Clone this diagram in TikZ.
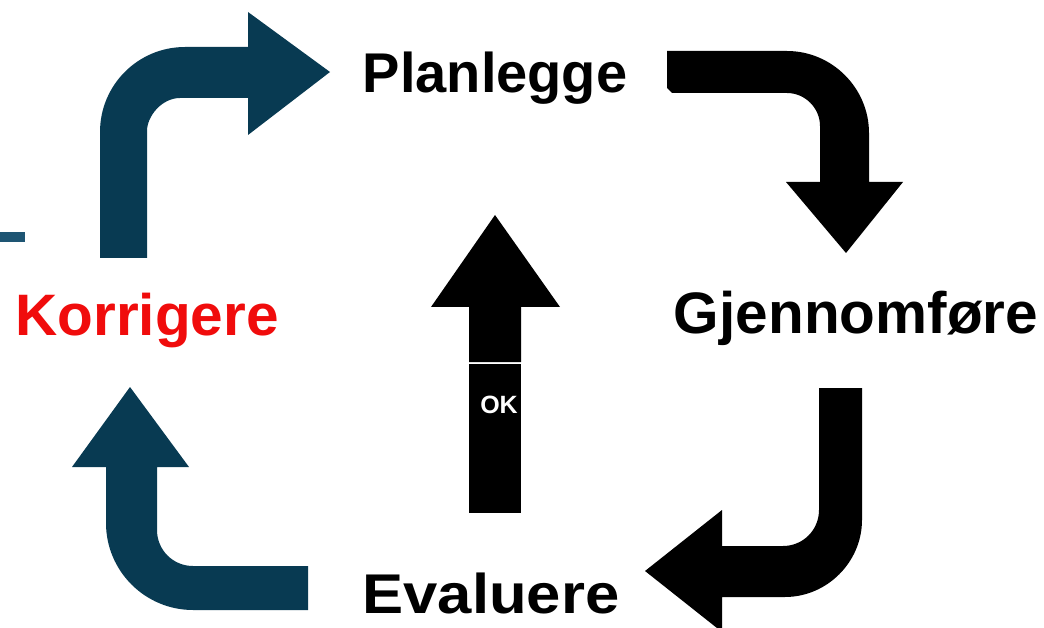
\documentclass[tikz,border=0pt]{standalone}
\usepackage{fontspec}
\setmainfont{Liberation Sans}
\definecolor{tealdark}{RGB}{8,58,82}
\definecolor{teallight}{RGB}{30,85,115}
\definecolor{redlabel}{RGB}{240,12,12}
\tikzset{
  lbl/.style={inner sep=0pt, anchor=base, font=\fontsize{56}{60}\selectfont\bfseries},
  lblb/.style={inner sep=0pt, anchor=base, font=\fontsize{58.5}{62}\selectfont\bfseries},
  oklbl/.style={inner sep=0pt, anchor=base, text=white, font=\fontsize{25}{28}\selectfont\bfseries},
}
\begin{document}
\begin{tikzpicture}[x=1pt,y=-1pt]
\useasboundingbox (0,0) rectangle (1044,628);
% small mark at left
\fill[teallight] (0,232) rectangle (25,242);
% top-left arrow (Korrigere -> Planlegge)
\fill[tealdark] (100,258) -- (100,132) .. controls (100,85) and (138,47) .. (185,47)
  -- (248,47) -- (248,12) -- (330,72) -- (248,135) -- (248,98) -- (180,98)
  .. controls (162,98) and (147,116) .. (147,131) -- (147,258) -- cycle;
% top-right arrow (Planlegge -> Gjennomfore)
\fill[black] (667,51) -- (787,51) .. controls (832,51) and (869,88) .. (869,133)
  -- (869,182) -- (903,182) -- (846,253) -- (786,182) -- (820,182) -- (820,126)
  .. controls (820,108) and (805,93) .. (787,93) -- (672,93) -- (667,88) -- cycle;
% bottom-right arrow (Gjennomfore -> Evaluere)
\fill[black] (819,388) -- (862,388) -- (862,520) .. controls (862,562) and (827,597) .. (785,597)
  -- (722,597) -- (722,632) -- (645,571) -- (722,510) -- (722,546) -- (783,546)
  .. controls (803,546) and (819,530) .. (819,510) -- cycle;
% bottom-left arrow (Evaluere -> Korrigere)
\fill[tealdark] (130,387) -- (189,467) -- (157,467) -- (157,530) .. controls (157,550) and (173,566) .. (193,566)
  -- (308,566) -- (308,610) -- (193,610) .. controls (145,610) and (106,571) .. (106,523)
  -- (106,467) -- (72,467) -- cycle;
% central OK arrow
\fill[black] (469,362) -- (469,307) -- (431,307) -- (495,215) -- (560,307) -- (521,307) -- (521,362) -- cycle;
\fill[black] (469,364) rectangle (521,513);
\node[oklbl] (ok) at (499,413) {OK};
% labels
\node[lbl] (plan) at (495,93) {Planlegge};
\node[lblb] (gjen) at (856,334) {Gjennomføre};
\node[lblb, text=redlabel] (korr) at (147,335) {Korrigere};
\node[lbl, xscale=1.1] (eval) at (491,613) {Evaluere};
\end{tikzpicture}
\end{document}
